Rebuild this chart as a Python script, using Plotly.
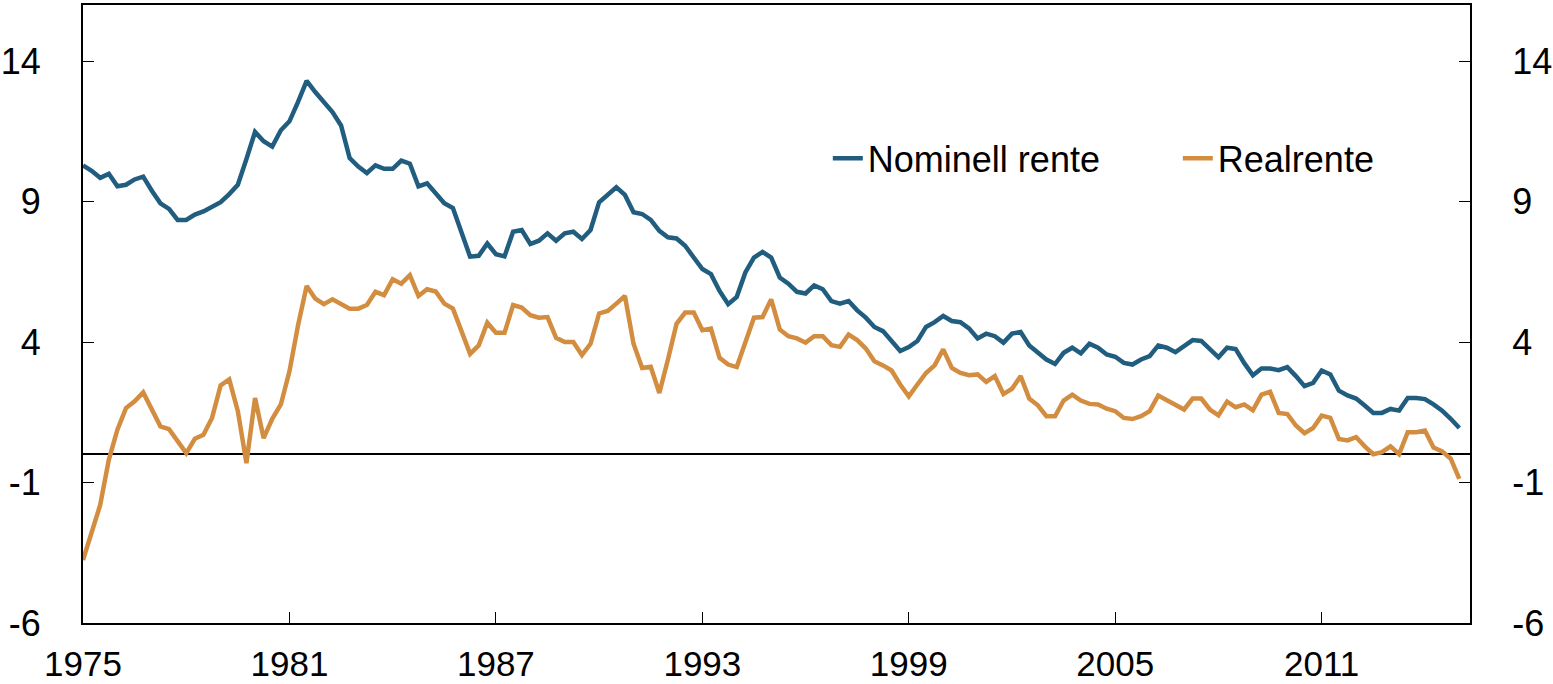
import plotly.graph_objects as go

start_year = 1975
quarters_per_year = 4

nominell = [
    10.29, 10.10, 9.85, 9.99, 9.55, 9.60, 9.79, 9.89, 9.39, 8.94,
    8.74, 8.35, 8.35, 8.54, 8.65, 8.82, 8.98, 9.27, 9.60, 10.52,
    11.48, 11.15, 10.96, 11.54, 11.86, 12.55, 13.30, 12.90, 12.57, 12.19,
    11.71, 10.55, 10.25, 10.02, 10.29, 10.17, 10.17, 10.46, 10.35, 9.54,
    9.65, 9.30, 8.94, 8.77, 7.96, 7.04, 7.07, 7.51, 7.13, 7.05,
    7.93, 7.99, 7.49, 7.61, 7.87, 7.61, 7.87, 7.93, 7.67, 7.99,
    8.98, 9.25, 9.51, 9.24, 8.62, 8.56, 8.35, 7.96, 7.73, 7.69,
    7.43, 7.01, 6.60, 6.42, 5.82, 5.35, 5.61, 6.48, 7.01, 7.21,
    7.01, 6.30, 6.08, 5.79, 5.73, 6.02, 5.88, 5.46, 5.37, 5.46,
    5.13, 4.87, 4.54, 4.39, 4.06, 3.68, 3.82, 4.04, 4.54, 4.71,
    4.93, 4.75, 4.71, 4.49, 4.13, 4.30, 4.21, 3.98, 4.30, 4.36,
    3.88, 3.64, 3.38, 3.22, 3.62, 3.80, 3.60, 3.94, 3.80, 3.56,
    3.48, 3.26, 3.20, 3.38, 3.50, 3.88, 3.80, 3.64, 3.86, 4.07,
    4.04, 3.77, 3.46, 3.80, 3.75, 3.25, 2.82, 3.06, 3.06, 3.00,
    3.11, 2.79, 2.43, 2.55, 2.99, 2.85, 2.27, 2.10, 1.99, 1.74,
    1.48, 1.48, 1.62, 1.56, 2.01, 2.01, 1.97, 1.78, 1.56, 1.27,
    0.94,
]

realrente = [
    -3.76, -2.81, -1.80, -0.19, 0.88, 1.65, 1.89, 2.21, 1.60, 1.00,
    0.90, 0.49, 0.05, 0.56, 0.70, 1.30, 2.46, 2.67, 1.54, -0.31,
    2.01, 0.58, 1.27, 1.78, 2.96, 4.60, 6.00, 5.55, 5.35, 5.52,
    5.37, 5.19, 5.19, 5.32, 5.79, 5.67, 6.24, 6.08, 6.38, 5.64,
    5.88, 5.80, 5.37, 5.19, 4.39, 3.58, 3.88, 4.69, 4.33, 4.33,
    5.32, 5.23, 4.96, 4.87, 4.89, 4.15, 4.00, 4.00, 3.54, 3.94,
    5.02, 5.11, 5.37, 5.64, 3.94, 3.08, 3.12, 2.19, 3.38, 4.65,
    5.05, 5.05, 4.42, 4.48, 3.44, 3.20, 3.11, 3.98, 4.87, 4.89,
    5.52, 4.45, 4.21, 4.13, 3.98, 4.21, 4.21, 3.89, 3.83, 4.27,
    4.07, 3.77, 3.32, 3.17, 2.99, 2.49, 2.07, 2.49, 2.90, 3.17,
    3.74, 3.08, 2.90, 2.82, 2.85, 2.58, 2.79, 2.15, 2.34, 2.79,
    1.99, 1.75, 1.36, 1.36, 1.92, 2.13, 1.92, 1.80, 1.78, 1.63,
    1.54, 1.30, 1.26, 1.36, 1.54, 2.10, 1.92, 1.78, 1.60, 1.99,
    1.99, 1.60, 1.39, 1.88, 1.68, 1.78, 1.57, 2.13, 2.23, 1.48,
    1.44, 1.03, 0.76, 0.94, 1.38, 1.30, 0.55, 0.50, 0.62, 0.29,
    0.01, 0.08, 0.29, 0.01, 0.79, 0.79, 0.85, 0.25, 0.11, -0.15,
    -0.87,
]

x_tick_vals = [1975, 1981, 1987, 1993, 1999, 2005, 2011]
y_tick_vals = [-6, -1, 4, 9, 14]
y_tick_text = ["-6", "-1", "4", "9", "14"]
series_names = ["Nominell rente", "Realrente"]

x_vals = [start_year + i / quarters_per_year for i in range(len(nominell))]

BLUE = "#215D7E"
ORANGE = "#D38D40"
FONT = "Arial, Liberation Sans, sans-serif"

fig = go.Figure()
fig.add_trace(go.Scatter(x=x_vals, y=nominell, mode="lines", name=series_names[0],
                         line=dict(color=BLUE, width=4.5)))
fig.add_trace(go.Scatter(x=x_vals, y=realrente, mode="lines", name=series_names[1],
                         line=dict(color=ORANGE, width=4.5)))
# invisible trace to anchor the right-hand axis
fig.add_trace(go.Scatter(x=[x_vals[0]], y=[0], yaxis="y2", mode="lines",
                         showlegend=False, hoverinfo="skip",
                         line=dict(color="rgba(0,0,0,0)")))

fig.update_layout(
    width=1553, height=684,
    margin=dict(l=83, r=83, t=5, b=61, autoexpand=False),
    paper_bgcolor="white", plot_bgcolor="white",
    font=dict(family=FONT, size=36, color="black"),
    showlegend=True,
    legend=dict(orientation="h", x=0.537, y=0.752, xanchor="left", yanchor="middle",
                bgcolor="rgba(0,0,0,0)", font=dict(size=36),
                entrywidth=305, entrywidthmode="pixels"),
    xaxis=dict(range=[1975, 2015.31], tickvals=x_tick_vals,
               ticktext=[str(v) for v in x_tick_vals],
               ticks="inside", ticklen=11, tickwidth=1, tickcolor="black",
               showline=True, linecolor="black", linewidth=2, mirror=True,
               showgrid=False, zeroline=False, automargin=False,
               ticklabelstandoff=9, tickfont=dict(size=35)),
    yaxis=dict(range=[-6, 16], tickvals=y_tick_vals, ticktext=y_tick_text,
               ticks="inside", ticklen=11, tickwidth=1, tickcolor="black",
               showline=True, linecolor="black", linewidth=2, mirror=True,
               showgrid=False, zeroline=True, zerolinecolor="black", zerolinewidth=1.5,
               automargin=False, ticklabelstandoff=33),
    yaxis2=dict(range=[-6, 16], tickvals=y_tick_vals, ticktext=y_tick_text,
                overlaying="y", side="right",
                ticks="inside", ticklen=11, tickwidth=1, tickcolor="black",
                showline=True, linecolor="black", linewidth=2,
                showgrid=False, zeroline=False, automargin=False,
                ticklabelstandoff=33),
)

fig.write_html("out.html",
               config={"displayModeBar": False},
               post_script="document.body.style.margin='0';document.body.style.overflow='hidden';")
